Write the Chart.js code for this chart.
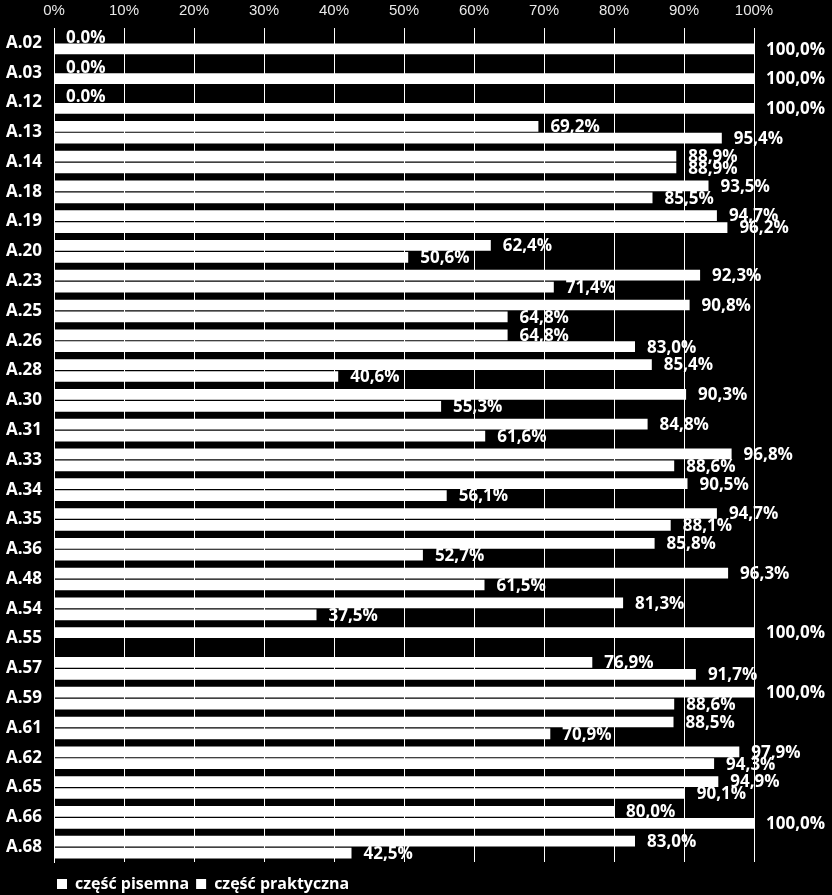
<!DOCTYPE html>
<html>
<head>
<meta charset="utf-8">
<title>Zdawalność</title>
<script src="https://cdn.jsdelivr.net/npm/chart.js@4/dist/chart.umd.min.js"></script>
<style>
  body { margin: 0; background: #000; }
  #wrap { width: 832px; height: 895px; }
</style>
</head>
<body>
<div id="wrap"><canvas id="chart" width="832" height="895"></canvas></div>
<script>
// categories (qualifications)
const categories = ['A.02', 'A.03', 'A.12', 'A.13', 'A.14', 'A.18', 'A.19', 'A.20', 'A.23', 'A.25',
  'A.26', 'A.28', 'A.30', 'A.31', 'A.33', 'A.34', 'A.35', 'A.36', 'A.48', 'A.54',
  'A.55', 'A.57', 'A.59', 'A.61', 'A.62', 'A.65', 'A.66', 'A.68'];

// część pisemna (written part), %
const writtenValues = [0, 0, 0, 69.2, 88.9, 93.5, 94.7, 62.4, 92.3, 90.8,
  64.8, 85.4, 90.3, 84.8, 96.8, 90.5, 94.7, 85.8, 96.3, 81.3,
  100, 76.9, 100, 88.5, 97.9, 94.9, 80.0, 83.0];

// część praktyczna (practical part), %  (A.55 has no value)
const practicalValues = [100, 100, 100, 95.4, 88.9, 85.5, 96.2, 50.6, 71.4, 64.8,
  83.0, 40.6, 55.3, 61.6, 88.6, 56.1, 88.1, 52.7, 61.5, 37.5,
  null, 91.7, 88.6, 70.9, 94.3, 90.1, 100, 42.5];

const seriesNames = ['część pisemna', 'część praktyczna'];
const tickValues = [0, 10, 20, 30, 40, 50, 60, 70, 80, 90, 100];

// format like the original: zero values use a dot, the rest a comma
function formatLabel(v) {
  if (v === 0) return v.toFixed(1) + '%';
  return v.toFixed(1).replace('.', ',') + '%';
}

// black canvas background
const bgPlugin = {
  id: 'bg',
  beforeDraw(chart) {
    const ctx = chart.ctx;
    ctx.save();
    ctx.fillStyle = '#000';
    ctx.fillRect(0, 0, chart.width, chart.height);
    ctx.restore();
  }
};

// nudge the legend under the plot, lined up with the axis
const legendShift = {
  id: 'legendShift',
  afterLayout(chart) {
    chart.legend.left += 50;
    chart.legend.top += 7;
  }
};

// value labels to the right of each bar
const valueLabels = {
  id: 'valueLabels',
  afterDatasetsDraw(chart) {
    const ctx = chart.ctx;
    ctx.save();
    ctx.font = 'bold 17px "Open Sans"';
    ctx.fillStyle = '#fff';
    ctx.textAlign = 'left';
    ctx.textBaseline = 'middle';
    chart.data.datasets.forEach(function (ds, i) {
      const meta = chart.getDatasetMeta(i);
      meta.data.forEach(function (bar, j) {
        const v = ds.data[j];
        if (v === null || v === undefined) return;
        ctx.fillText(formatLabel(v), bar.x + 12, bar.y + 1);
      });
    });
    ctx.restore();
  }
};

const ctx = document.getElementById('chart').getContext('2d');

const chart = new Chart(ctx, {
  type: 'bar',
  data: {
    labels: categories,
    datasets: [
      {
        label: seriesNames[0],
        data: writtenValues,
        backgroundColor: '#fff',
        borderWidth: 0
      },
      {
        label: seriesNames[1],
        data: practicalValues,
        backgroundColor: '#fff',
        borderWidth: 0
      }
    ]
  },
  options: {
    indexAxis: 'y',
    responsive: false,
    animation: false,
    categoryPercentage: 0.8,
    barPercentage: 0.9,
    layout: { padding: { top: 2, right: 78, bottom: 0, left: 0 } },
    scales: {
      x: {
        position: 'top',
        min: 0,
        max: 100,
        afterBuildTicks(scale) {
          scale.ticks = tickValues.map(function (v) { return { value: v }; });
        },
        afterFit(scale) { scale.height = 26; },
        grid: { color: '#fff', lineWidth: 1, drawTicks: false },
        border: { display: false },
        ticks: {
          color: '#e8e8e8',
          padding: 8,
          font: { family: '"Liberation Sans"', size: 15 },
          callback: function (v) { return v + '%'; }
        }
      },
      y: {
        afterFit(scale) { scale.width = 54; },
        grid: { display: false, drawTicks: false },
        border: { display: true, color: '#fff', width: 1 },
        ticks: {
          color: '#fff',
          padding: 12,
          font: { family: '"Open Sans"', size: 17, weight: 'bold' }
        }
      }
    },
    plugins: {
      legend: {
        position: 'bottom',
        align: 'start',
        labels: {
          color: '#fff',
          boxWidth: 10,
          boxHeight: 10,
          padding: 7,
          font: { family: '"Open Sans"', size: 16, weight: 'bold' }
        }
      },
      tooltip: { enabled: false }
    }
  },
  plugins: [bgPlugin, legendShift, valueLabels]
});
</script>
</body>
</html>
